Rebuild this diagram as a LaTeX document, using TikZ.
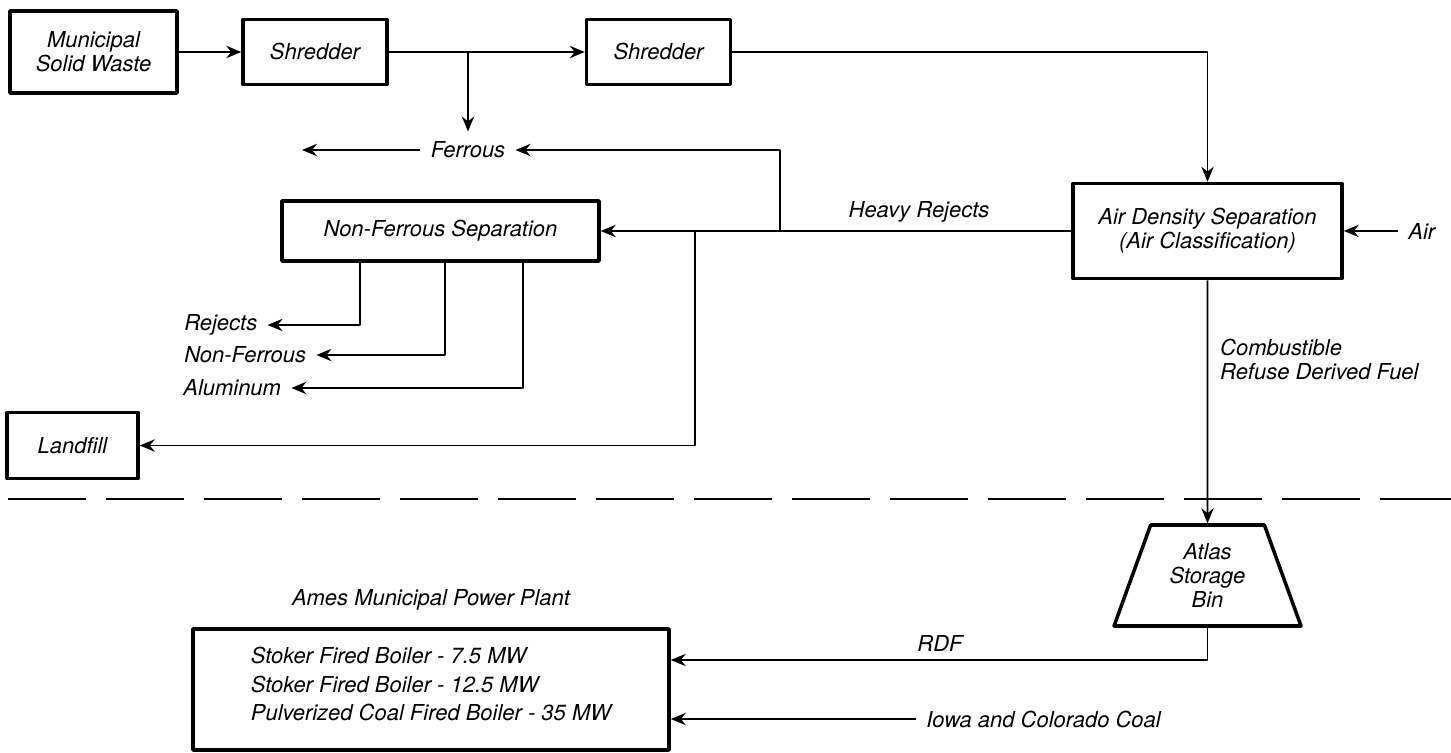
\documentclass[tikz,border=0pt]{standalone}
\usepackage{fontspec}
\setmainfont{TeX Gyre Heros}
\usetikzlibrary{arrows.meta,positioning,shapes.geometric}

\tikzset{
  unit/.style={draw, line width=2pt, align=center},
  flow/.style={->, line width=1.1pt},
  tag/.style={inner sep=0.2cm},
}

\begin{document}
\begin{tikzpicture}[font=\fontsize{12.5}{13.5}\selectfont\itshape, line join=round, >={Stealth[length=8.5pt,width=7pt]}]
  \useasboundingbox (0,0) rectangle (29.02,15.04);
  % processing units
  \node[unit, minimum width=3.34cm, minimum height=1.64cm] (msw) at (1.87,14.0) {Municipal\\Solid Waste};
  \node[unit, minimum width=2.88cm, minimum height=1.3cm] (shr1) at (6.30,14.0) {Shredder};
  \node[unit, minimum width=2.88cm, minimum height=1.3cm] (shr2) at (13.17,14.0) {Shredder};
  \node[unit, minimum width=5.38cm, minimum height=1.9cm] (ads) at (24.15,10.42) {Air Density Separation\\(Air Classification)};
  \node[unit, minimum width=6.34cm, minimum height=1.2cm] (nfs) at (8.81,10.42) {Non-Ferrous Separation};
  \node[unit, minimum width=2.62cm, minimum height=1.32cm] (landfill) at (1.45,6.13) {Landfill};
  \node[unit, trapezium, trapezium angle=60, trapezium stretches body, minimum width=3.74cm, minimum height=2.02cm, inner sep=0pt] (bin) at (24.15,3.53) {Atlas\\Storage\\Bin};
  \node[unit, minimum width=9.52cm, minimum height=2.42cm] (plant) at (8.62,1.25) {};
  \node[align=left] (boilers) at (8.62,1.36) {Stoker Fired Boiler - 7.5 MW\\[2.7pt]Stoker Fired Boiler - 12.5 MW\\[2.7pt]Pulverized Coal Fired Boiler - 35 MW};
  \node[above=0.22cm of plant] (amestitle) {Ames Municipal Power Plant};
  % stream labels
  \node[tag] (ferrous) at (9.36,12.04) {Ferrous};
  \node (heavy) at (18.38,10.80) {Heavy Rejects};
  \node[tag, anchor=west] (rejects) at (3.48,8.54) {Rejects};
  \node[tag, anchor=west] (nonfe) at (3.48,7.94) {Non-Ferrous};
  \node[tag, anchor=west] (alu) at (3.46,7.28) {Aluminum};
  \node[tag, anchor=west] (air) at (27.96,10.42) {Air};
  \node[anchor=west, align=left] (crdf) at (24.28,7.85) {Combustible\\Refuse Derived Fuel};
  \node (rdf) at (18.80,2.18) {RDF};
  \node[tag, anchor=west] (coal) at (18.32,0.66) {Iowa and Colorado Coal};
  % branch points
  \coordinate (fe) at (9.36,14.0);
  \coordinate (ferrousout) at (6.04,12.04);
  \coordinate (hr) at (15.60,10.42);
  \coordinate (lf) at (13.90,10.42);
  % flows
  \draw[flow] (msw) -- (shr1);
  \draw[flow] (shr1) -- (shr2);
  \draw[flow] (fe) -- (ferrous);
  \draw[flow] (ferrous) -- (ferrousout);
  \draw[flow] (shr2) -| (ads);
  \draw[flow] (ads) -- (nfs);
  \draw[flow] (hr) |- (ferrous);
  \draw[flow] (lf) |- (landfill);
  \draw[flow] ([xshift=-1.61cm]nfs.south) |- (rejects);
  \draw[flow] ([xshift=0.09cm]nfs.south) |- (nonfe);
  \draw[flow] ([xshift=1.65cm]nfs.south) |- (alu);
  \draw[flow] (air) -- (ads);
  \draw[flow] (ads) -- (bin);
  \draw[flow] (bin.south) |- ([yshift=0.59cm]plant.east);
  \draw[flow] (coal) -- ([yshift=-0.59cm]plant.east);
  % site boundary
  \draw[line width=1.4pt, dash pattern=on 1.56cm off 0.4cm] (0.16,5.06) -- (29.02,5.06);
\end{tikzpicture}
\end{document}
